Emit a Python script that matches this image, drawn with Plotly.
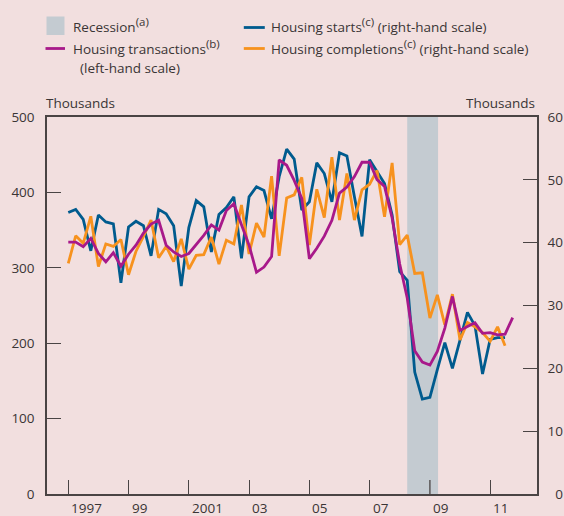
import plotly.graph_objects as go
import pandas as pd

# ---------------- data (quarterly, 1997 Q1 onwards) ----------------
quarters = pd.date_range("1997-01-01", periods=60, freq="QS")

# Housing transactions, thousands (left-hand scale)
transactions = [334, 334, 328, 339, 319, 308, 320, 302, 318, 330,
                346, 358, 363, 330, 321, 315, 319, 331, 343, 357,
                350, 376, 385, 357, 330, 294, 301, 315, 443, 436,
                416, 392, 312, 326, 342, 363, 399, 407, 421, 440,
                440, 417, 408, 366, 305, 260, 190, 175, 171, 189,
                220, 262, 217, 222, 227, 213, 214, 211, 212, 234]

# Housing starts, thousands (right-hand scale)
starts = [44.8, 45.3, 43.7, 38.7, 44.4, 43.3, 43.0, 33.6, 42.5, 43.4,
          42.7, 37.9, 45.3, 44.6, 42.7, 33.1, 42.4, 46.7, 45.7, 38.5,
          44.5, 45.6, 47.3, 37.5, 47.3, 48.9, 48.3, 43.8, 50.5, 54.9,
          53.3, 45.2, 46.5, 52.7, 51.0, 46.5, 54.3, 53.8, 47.3, 41.0,
          53.2, 51.3, 49.4, 44.4, 35.4, 34.0, 19.4, 15.1, 15.4, 19.8,
          24.1, 20.0, 24.5, 28.9, 26.8, 19.1, 24.6, 24.9, 24.9]

# Housing completions, thousands (right-hand scale)
completions = [36.7, 41.1, 39.9, 44.2, 36.2, 39.8, 39.4, 40.5, 34.9, 38.6,
               41.0, 43.6, 37.6, 39.4, 37.0, 40.6, 35.8, 38.0, 38.1, 40.9,
               36.6, 40.4, 39.8, 46.0, 38.2, 43.1, 40.9, 50.6, 37.9, 47.1,
               47.6, 50.4, 39.6, 48.5, 44.0, 53.6, 43.6, 51.0, 43.6, 48.4,
               49.3, 51.5, 44.1, 52.7, 39.7, 41.2, 35.1, 35.2, 28.0, 31.7,
               26.9, 31.8, 24.5, 27.3, 26.6, 25.7, 24.3, 26.6, 23.6]

recession = ["2008-04-01", "2009-04-10"]

tick_dates = ["1997-01-01", "1999-01-01", "2001-01-01", "2003-01-01",
              "2005-01-01", "2007-01-01", "2009-01-01", "2011-01-01"]
tick_labels = ["1997", "99", "2001", "03", "05", "07", "09", "11"]
left_ticks = [0, 100, 200, 300, 400, 500]
right_ticks = [0, 10, 20, 30, 40, 50, 60]

# ---------------- style ----------------
BG = "#f2dfdf"
BLUE = "#005b8e"
PURPLE = "#a8198a"
ORANGE = "#f7921e"
GREY = "#c4cbd1"
AXIS = "#4a4444"
TEXT = "#3a3535"
FONT = "Open Sans"
FS = 13.5

W, H = 564, 516
PL, PR, PT, PB = 47, 537.5, 117, 494
TICKLEN = 14


def px(x):
    return (x - PL) / (PR - PL)


def py(y):
    return (PB - y) / (PB - PT)


def sup(s):
    return "<sup><span style='font-size:11.5px'>" + s + "</span></sup>"


fig = go.Figure()

# right-hand scale traces (base axis y2)
fig.add_trace(go.Scatter(
    x=[recession[0], recession[0], recession[1], recession[1], recession[0]],
    y=[0, 60, 60, 0, 0], yaxis="y2", mode="lines", fill="toself",
    fillcolor=GREY, line=dict(width=0, color=GREY),
    hoverinfo="skip", showlegend=False))
fig.add_trace(go.Scatter(x=quarters[:len(starts)], y=starts, yaxis="y2",
                         mode="lines", line=dict(color=BLUE, width=2.8),
                         name="Housing starts", showlegend=False))
fig.add_trace(go.Scatter(x=quarters[:len(completions)], y=completions, yaxis="y2",
                         mode="lines", line=dict(color=ORANGE, width=2.8),
                         name="Housing completions", showlegend=False))
# left-hand scale trace (overlaying axis y, drawn on top)
fig.add_trace(go.Scatter(x=quarters[:len(transactions)], y=transactions, yaxis="y",
                         mode="lines", line=dict(color=PURPLE, width=2.8),
                         name="Housing transactions", showlegend=False))

axis_common = dict(showgrid=False, zeroline=False, showline=True, linecolor=AXIS,
                   linewidth=1.5, ticks="inside", ticklen=TICKLEN, tickwidth=1.3,
                   tickcolor=AXIS, layer="below traces",
                   tickfont=dict(family=FONT, size=FS, color=TEXT))

# right-aligned right-hand labels (pad one-digit label with a figure space)
right_text = [("\u2007" + str(v)) if v < 10 else str(v) for v in right_ticks]

fig.update_layout(
    width=W, height=H,
    paper_bgcolor=BG, plot_bgcolor=BG,
    margin=dict(l=PL, r=W - PR, t=PT, b=H - PB, autoexpand=False),
    showlegend=False,
    font=dict(family=FONT, size=FS, color=TEXT),
    xaxis=dict(type="date", range=["1996-04-18", "2012-07-22"],
               tickvals=tick_dates, showticklabels=False, mirror=True,
               **axis_common),
    yaxis2=dict(range=[0, 60], tickvals=right_ticks, ticktext=right_text,
                side="right", ticklabelstandoff=6, **axis_common),
    yaxis=dict(range=[0, 500], tickvals=left_ticks, ticklabelstandoff=8,
               overlaying="y2", side="left", **axis_common),
)

annotations = []
for d, lab in zip(tick_dates, tick_labels):
    annotations.append(dict(x=d, xref="x", y=py(507.5), yref="paper", text=lab,
                            xanchor="left", yanchor="middle", xshift=1,
                            showarrow=False, font=dict(family=FONT, size=FS, color=TEXT)))


def txt(x, y, s, anchor="left"):
    annotations.append(dict(x=px(x), y=py(y), xref="paper", yref="paper", text=s,
                            xanchor=anchor, yanchor="middle", showarrow=False,
                            font=dict(family=FONT, size=FS, color=TEXT)))


txt(44, 103, "Thousands")
txt(538, 103, "Thousands", anchor="right")
txt(71, 25, "Recession" + sup("(a)"))
txt(71, 47, "Housing transactions" + sup("(b)"))
txt(78, 68, "(left-hand scale)")
txt(269, 25, "Housing starts" + sup("(c)") + " (right-hand scale)")
txt(269, 47, "Housing completions" + sup("(c)") + " (right-hand scale)")

shapes = [
    dict(type="rect", xref="paper", yref="paper", x0=px(46.5), x1=px(64.5),
         y0=py(35), y1=py(16.5), fillcolor=GREY, line=dict(width=0)),
    dict(type="line", xref="paper", yref="paper", x0=px(45.5), x1=px(65),
         y0=py(48.5), y1=py(48.5), line=dict(color=PURPLE, width=2.8)),
    dict(type="line", xref="paper", yref="paper", x0=px(244), x1=px(265),
         y0=py(27.5), y1=py(27.5), line=dict(color=BLUE, width=2.8)),
    dict(type="line", xref="paper", yref="paper", x0=px(244), x1=px(265),
         y0=py(48.5), y1=py(48.5), line=dict(color=ORANGE, width=2.8)),
]

# keep x-axis tick marks visible where they fall inside the shaded recession
for d in tick_dates:
    if recession[0] <= d <= recession[1]:
        shapes.append(dict(type="line", xref="x", yref="paper", x0=d, x1=d,
                           y0=0, y1=TICKLEN / (PB - PT), layer="above",
                           line=dict(color=AXIS, width=1.3)))

fig.update_layout(annotations=annotations, shapes=shapes)

fig.write_html("out.html", config={"displayModeBar": False},
               post_script="document.body.style.margin='0';document.body.style.overflow='hidden';")
